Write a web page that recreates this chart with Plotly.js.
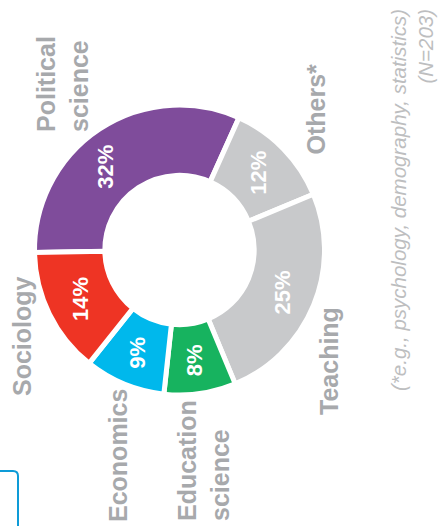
<!DOCTYPE html>
<html>
<head>
<meta charset="utf-8">
<script src="https://cdn.plot.ly/plotly-3.0.1.min.js"></script>
<style>
  html, body { margin: 0; padding: 0; background: #ffffff; }
  #chart { width: 439px; height: 526px; }
</style>
</head>
<body>
<div id="chart"></div>
<script>
// ---- data ----
const categories = ['Political science', 'Others*', 'Teaching', 'Education science', 'Economics', 'Sociology'];
const categoryLabels = ['Political<br>science', 'Others*', 'Teaching', 'Education<br>science', 'Economics', 'Sociology'];
const shares = [32, 12, 25, 8, 9, 14];
const shareLabels = ['32%', '12%', '25%', '8%', '9%', '14%'];
const footnote = '(*e.g., psychology, demography, statistics)<br>(N=203)';

// ---- styles / layout constants ----
const W = 439, H = 526;
const colors = ['#7F4C9B', '#C8C9CB', '#C8C9CB', '#17B35F', '#00B8EC', '#EE3424'];
const cx = 179.5, cy = 250, R = 145;   // pixel centre and drawn radius
const startAngle = 181;                // math angle where first slice starts
const labelRadius = 111;
const pctNudgeDeg = [8, 0, 0, 0, 0, 0];
// category label block centres (pixels)
const catPos = [[62, 84], [315.5, 109], [329, 361], [203, 461], [118, 456], [22, 336]];
const catAlign = ['left', 'left', 'left', 'left', 'left', 'left'];

const px = x => x / W;
const py = y => 1 - y / H;

const trace = {
  type: 'pie',
  values: shares,
  labels: categories,
  sort: false,
  direction: 'clockwise',
  rotation: -(startAngle - 90),
  hole: 0.515,
  textinfo: 'none',
  hoverinfo: 'label+percent',
  marker: { colors: colors, line: { color: '#ffffff', width: 5 } },
  domain: { x: [px(cx - R), px(cx + R)], y: [py(cy + R), py(cy - R)] },
  showlegend: false
};

const total = shares.reduce((a, b) => a + b, 0);
const annotations = [];
let cum = 0;
shares.forEach((v, i) => {
  const mid = cum + v / 2;
  cum += v;
  const ang = (startAngle - mid / total * 360 + pctNudgeDeg[i]) * Math.PI / 180;
  annotations.push({
    xref: 'paper', yref: 'paper',
    x: px(cx + labelRadius * Math.cos(ang)),
    y: py(cy - labelRadius * Math.sin(ang)),
    text: shareLabels[i], showarrow: false, textangle: -90,
    xanchor: 'center', yanchor: 'middle',
    font: { family: 'Liberation Sans, Arial, sans-serif', size: 22, color: '#ffffff', weight: 'bold' }
  });
});

categoryLabels.forEach((t, i) => {
  annotations.push({
    xref: 'paper', yref: 'paper',
    x: px(catPos[i][0]), y: py(catPos[i][1]),
    text: t, showarrow: false, textangle: -90, align: catAlign[i],
    xanchor: 'center', yanchor: 'middle',
    font: { family: 'Liberation Sans, Arial, sans-serif', size: 25, color: '#A7A9AC', weight: 'bold' }
  });
});

annotations.push({
  xref: 'paper', yref: 'paper',
  x: px(412), y: py(200),
  text: footnote, showarrow: false, textangle: -90, align: 'right',
  xanchor: 'center', yanchor: 'middle',
  font: { family: 'Liberation Sans, Arial, sans-serif', size: 20.5, color: '#BDBEC0', style: 'italic', weight: 300 }
});

const boxPath = `M ${px(-2)},${py(471)} L ${px(13)},${py(471)} Q ${px(18)},${py(471)} ${px(18)},${py(476)} L ${px(18)},${py(530)}`;

const layout = {
  width: W, height: H,
  margin: { l: 0, r: 0, t: 0, b: 0 },
  paper_bgcolor: '#ffffff',
  plot_bgcolor: '#ffffff',
  showlegend: false,
  annotations: annotations,
  shapes: [{
    type: 'path', xref: 'paper', yref: 'paper', path: boxPath,
    line: { color: '#0E9BD7', width: 2 }
  }]
};

Plotly.newPlot('chart', [trace], layout, { displayModeBar: false, staticPlot: true });
</script>
</body>
</html>
